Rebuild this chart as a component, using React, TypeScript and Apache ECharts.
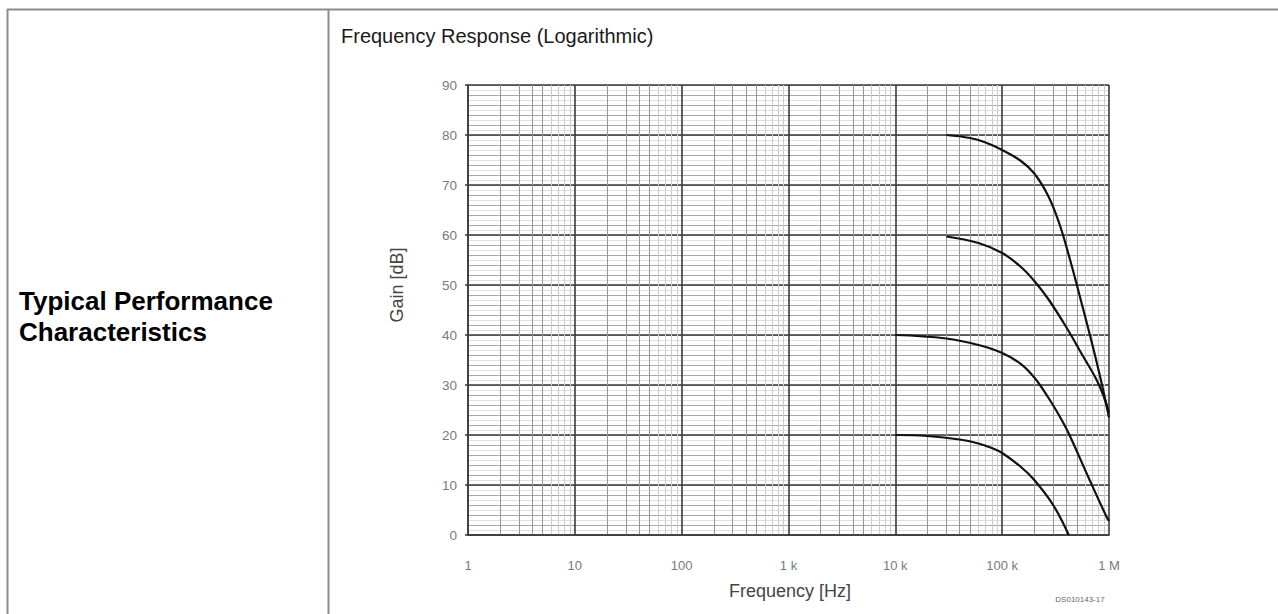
import React, { useEffect, useRef } from "react";
import * as echarts from "echarts";

// ---- data ----
const xTickValues = [1, 10, 100, 1000, 10000, 100000, 1000000];
const xTickLabels = ["1", "10", "100", "1 k", "10 k", "100 k", "1 M"];
const decades = [1, 10, 100, 1000, 10000, 100000];
const minorMedMult = [2, 3, 4, 5];
const minorLightMult = [6, 7, 8, 9];

const freq80 = [30000, 50000, 70000, 100000, 150000, 200000, 270000, 340000, 420000, 560000, 700000, 850000, 1000000];
const gain80 = [80, 79.4, 78.5, 77, 74.8, 72.3, 67.8, 62.5, 56, 46, 38, 30.5, 23.5];

const freq60 = [30000, 60000, 100000, 150000, 200000, 270000, 400000, 563000, 767000, 900000, 1000000];
const gain60 = [59.7, 58.4, 56.4, 53.6, 50.8, 47.2, 41.5, 36, 31, 27.5, 24.5];

const freq40 = [10000, 30000, 60000, 100000, 150000, 200000, 270000, 350000, 420000, 640000, 950000, 1000000];
const gain40 = [40, 39.3, 38, 36.4, 34.2, 31.5, 27.5, 23.5, 20.3, 11.6, 3.6, 2.8];

const freq20 = [10000, 20000, 40000, 60000, 80000, 100000, 150000, 200000, 300000, 420000];
const gain20 = [20, 19.8, 19.1, 18.3, 17.4, 16.4, 13.6, 11, 6, 0];

const FONT = "'Liberation Sans', Arial, sans-serif";

function pairs(xs: number[], ys: number[]) {
  return xs.map((x, i) => [x, ys[i]]);
}

export default function App() {
  const ref = useRef<HTMLDivElement>(null);
  useEffect(() => {
    if (!ref.current) return;
    const chart = echarts.init(ref.current, undefined, { renderer: "svg" });
    const medLines: any[] = [];
    const lightLines: any[] = [];
    decades.forEach((d) => {
      minorMedMult.forEach((m) => medLines.push({ xAxis: d * m }));
      minorLightMult.forEach((m) => lightLines.push({ xAxis: d * m }));
    });
    const curve = (name: string, xs: number[], ys: number[]) => ({
      name,
      type: "line",
      data: pairs(xs, ys),
      smooth: 0.4,
      showSymbol: false,
      symbol: "none",
      z: 10,
      lineStyle: { color: "#111", width: 2.2 },
      silent: true,
    });
    const markSeries = (color: string, z: number, data: any[]) => ({
      type: "line",
      data: [],
      z,
      silent: true,
      markLine: {
        silent: true,
        symbol: ["none", "none"],
        label: { show: false },
        lineStyle: { color, width: 1, type: "solid" },
        emphasis: { disabled: true },
        data,
      },
    });
    const labelFor = (v: number) => {
      const i = Math.round(Math.log10(v));
      return xTickLabels[i] ?? "";
    };
    chart.setOption({
      animation: false,
      backgroundColor: "#ffffff",
      grid: { left: 468, top: 85, width: 641, height: 450, show: false },
      xAxis: {
        type: "log",
        logBase: 10,
        min: xTickValues[0],
        max: xTickValues[xTickValues.length - 1],
        splitNumber: 6,
        z: 5,
        axisLine: { show: true, lineStyle: { color: "#3a3a3a", width: 1.6 } },
        axisTick: { show: false },
        splitLine: { show: true, lineStyle: { color: "#3a3a3a", width: 1.6 } },
        axisLabel: {
          margin: 24,
          fontSize: 13,
          color: "#7a7a7a",
          fontFamily: FONT,
          formatter: (v: number) => labelFor(v),
        },
      },
      yAxis: [
        {
          type: "value",
          min: 0,
          max: 90,
          interval: 10,
          z: 4,
          axisLine: { show: true, lineStyle: { color: "#3a3a3a", width: 1.6 } },
          axisTick: { show: true, length: 3, lineStyle: { color: "#3a3a3a", width: 1.5 } },
          splitLine: { show: true, lineStyle: { color: "#3a3a3a", width: 1.6 } },
          axisLabel: { margin: 11, fontSize: 13.5, color: "#7a7a7a", fontFamily: FONT },
        },
        {
          type: "value",
          min: 0,
          max: 90,
          interval: 2,
          z: 1,
          position: "left",
          axisLine: { show: false },
          axisTick: { show: false },
          axisLabel: { show: false },
          splitLine: { show: true, lineStyle: { color: "#a8a8a8", width: 1 } },
        },
        {
          type: "value",
          min: 0,
          max: 90,
          interval: 1,
          z: 0,
          position: "left",
          axisLine: { show: false },
          axisTick: { show: false },
          axisLabel: { show: false },
          splitLine: { show: true, lineStyle: { color: "#e0e0e0", width: 1 } },
        },
      ],
      series: [
        markSeries("#cccccc", 2, lightLines),
        markSeries("#969696", 3, medLines),
        curve("80 dB", freq80, gain80),
        curve("60 dB", freq60, gain60),
        curve("40 dB", freq40, gain40),
        curve("20 dB", freq20, gain20),
      ],
      graphic: [
        { type: "line", shape: { x1: 7, y1: 9.5, x2: 1278, y2: 9.5 }, style: { stroke: "#8c8c8c", lineWidth: 2 }, silent: true },
        { type: "line", shape: { x1: 7.5, y1: 9, x2: 7.5, y2: 614 }, style: { stroke: "#8c8c8c", lineWidth: 2 }, silent: true },
        { type: "line", shape: { x1: 328.5, y1: 9, x2: 328.5, y2: 614 }, style: { stroke: "#8c8c8c", lineWidth: 2 }, silent: true },
        {
          type: "text",
          x: 341,
          y: 36,
          silent: true,
          style: { text: "Frequency Response (Logarithmic)", fontSize: 20, fontFamily: FONT, fill: "#1a1a1a", align: "left", verticalAlign: "middle" },
        },
        {
          type: "text",
          x: 19,
          y: 301,
          silent: true,
          style: { text: "Typical Performance", fontSize: 26, fontWeight: "bold", fontFamily: FONT, fill: "#000", align: "left", verticalAlign: "middle" },
        },
        {
          type: "text",
          x: 19,
          y: 332,
          silent: true,
          style: { text: "Characteristics", fontSize: 26, fontWeight: "bold", fontFamily: FONT, fill: "#000", align: "left", verticalAlign: "middle" },
        },
        {
          type: "text",
          x: 397,
          y: 285,
          rotation: Math.PI / 2,
          silent: true,
          style: { text: "Gain [dB]", fontSize: 18, fontFamily: FONT, fill: "#444", align: "center", verticalAlign: "middle" },
        },
        {
          type: "text",
          x: 790,
          y: 591,
          silent: true,
          style: { text: "Frequency [Hz]", fontSize: 18, fontFamily: FONT, fill: "#444", align: "center", verticalAlign: "middle" },
        },
        {
          type: "text",
          x: 1080,
          y: 599,
          silent: true,
          style: { text: "DS010143-17", fontSize: 8, fontFamily: FONT, fill: "#666", align: "center", verticalAlign: "middle" },
        },
      ],
    });
    return () => chart.dispose();
  }, []);
  return (
    <div
      ref={ref}
      style={{ position: "fixed", left: 0, top: 0, width: 1278, height: 614, background: "#fff" }}
    />
  );
}
